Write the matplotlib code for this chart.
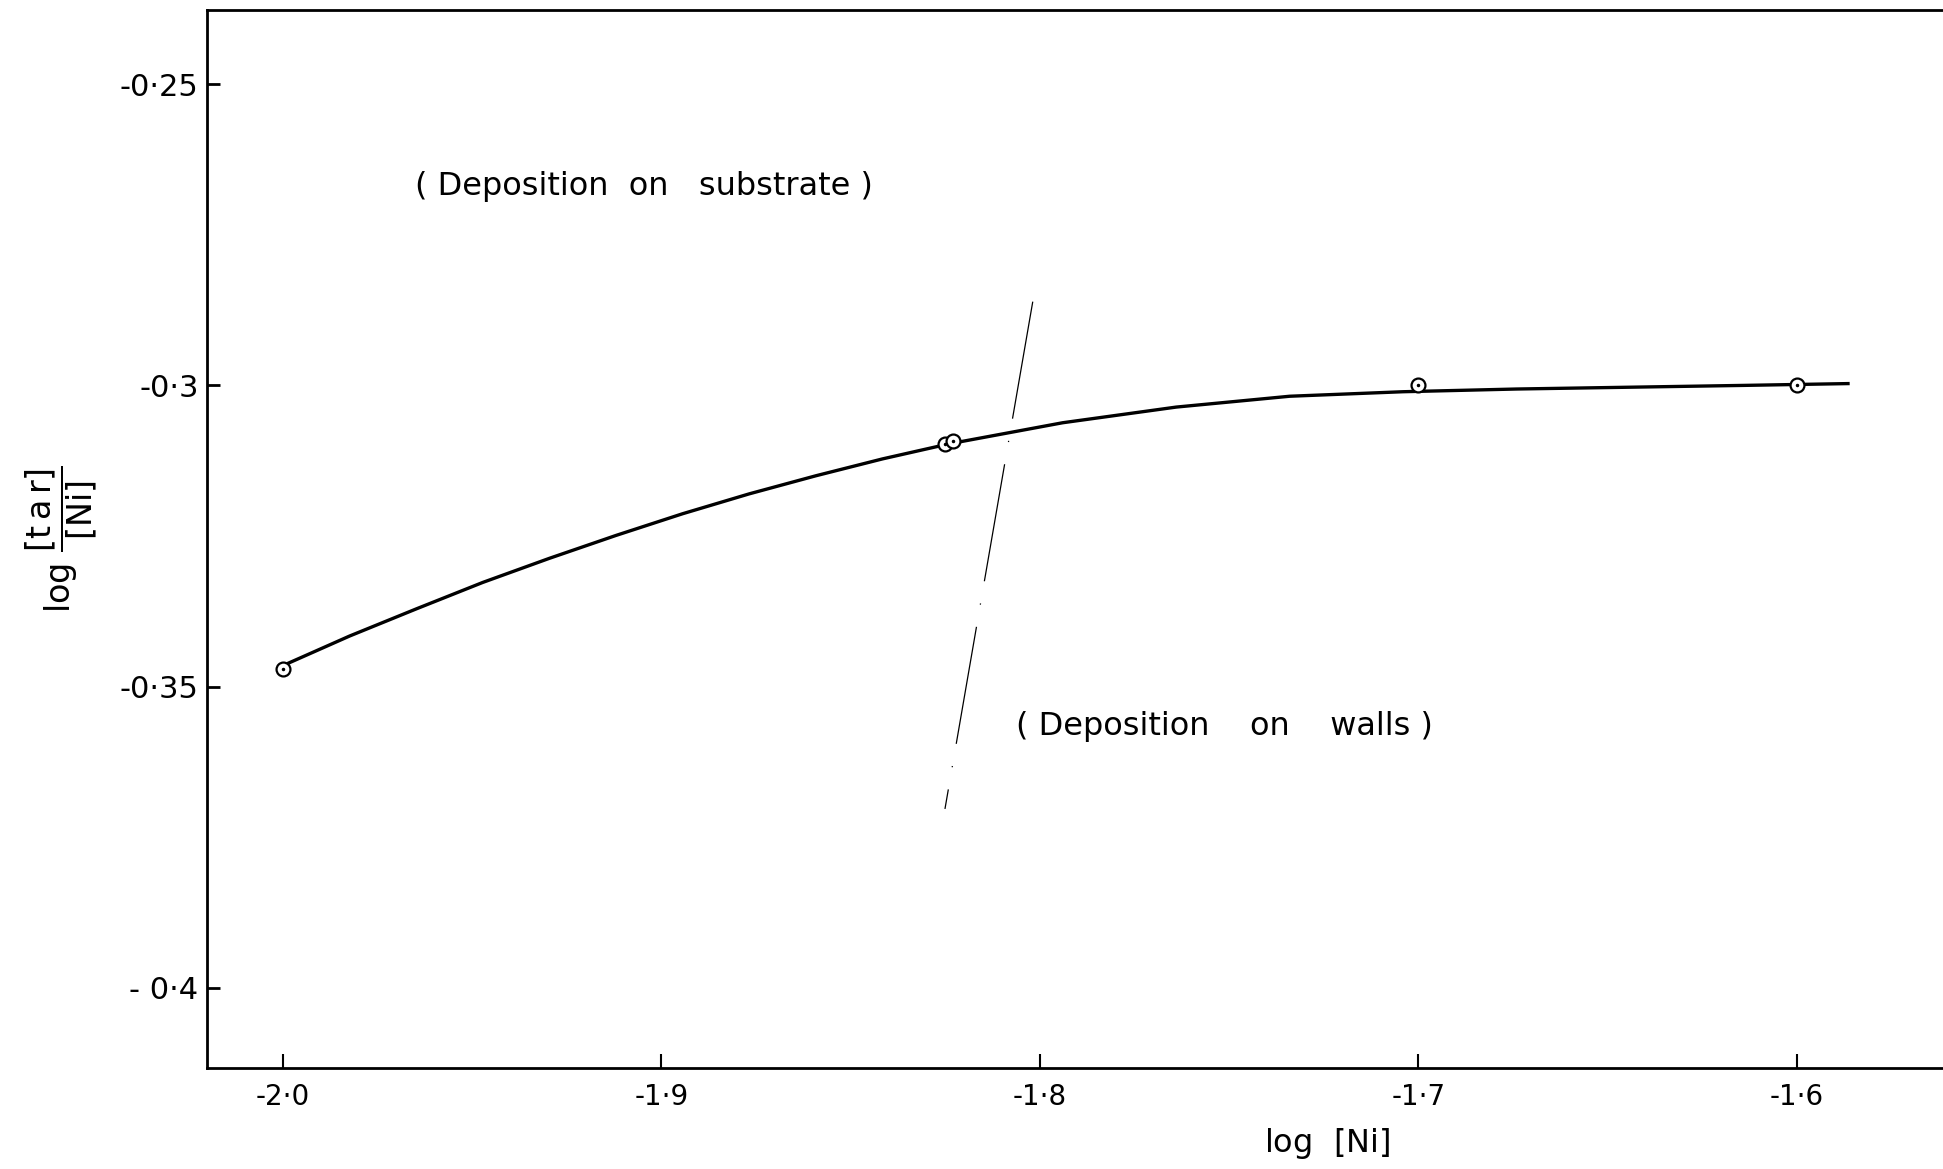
import matplotlib
matplotlib.use("Agg")
import matplotlib.pyplot as plt

# measured points, log[Ni] vs log([tar]/[Ni])
pts_x = [-2.0, -1.825, -1.823, -1.7, -1.6]
pts_y = [-0.347, -0.3098, -0.3093, -0.300, -0.300]

# hand-drawn smooth curve
curve_x = [-2.0, -1.9824, -1.9648, -1.9472, -1.9296, -1.912, -1.8944, -1.8768,
           -1.8592, -1.8416, -1.824, -1.794, -1.764, -1.734, -1.704, -1.674,
           -1.644, -1.614, -1.5865]
curve_y = [-0.3465, -0.3416, -0.3371, -0.3327, -0.3287, -0.3249, -0.3213, -0.3180,
           -0.3150, -0.3122, -0.3097, -0.3062, -0.3036, -0.3018, -0.30105, -0.3006,
           -0.3003, -0.3000, -0.2997]

# boundary between the two deposition regimes
border_x = [-1.8019, -1.8251]
border_y = [-0.2861, -0.3703]

xticks = [-2.0, -1.9, -1.8, -1.7, -1.6]
xlabels = ["-2·0", "-1·9", "-1·8", "-1·7", "-1·6"]
yticks = [-0.25, -0.3, -0.35, -0.4]
ylabels = ["-0·25", "-0·3", "-0·35", "- 0·4"]

plt.rcParams['mathtext.fontset'] = 'dejavusans'

fig = plt.figure(figsize=(19.43, 11.69), dpi=100)
ax = fig.add_axes([0.1065, 0.0864, 0.8935, 0.905])

ax.plot(curve_x, curve_y, color='black', lw=2.4, zorder=2)
ax.plot(pts_x, pts_y, 'o', ms=10, mfc='white', mec='black', mew=1.6, zorder=3)
ax.plot(pts_x, pts_y, '.', ms=3, color='black', zorder=4)
ax.plot(border_x, border_y, color='black', lw=0.9, dashes=(95, 18, 1, 18), zorder=1)

ax.text(-1.965, -0.267, "( Deposition  on   substrate )", fontsize=23,
        ha='left', va='center')
ax.text(-1.8063, -0.3567, "( Deposition    on    walls )", fontsize=23,
        ha='left', va='center')

ax.set_xlim(-2.0201, -1.5614)
ax.set_ylim(-0.4133, -0.2377)
ax.set_xticks(xticks)
ax.set_xticklabels(xlabels, fontsize=20)
ax.set_yticks(yticks)
ax.set_yticklabels(ylabels, fontsize=22)
ax.tick_params(axis='x', direction='in', length=10, width=1.5, pad=11)
ax.tick_params(axis='y', direction='in', length=9, width=2, pad=6)

ax.spines['right'].set_visible(False)
for s in ['left', 'bottom', 'top']:
    ax.spines[s].set_linewidth(2)

ax.set_xlabel(r"log  $\left[\mathrm{Ni}\right]$", fontsize=23)
ax.xaxis.set_label_coords(0.6455, -0.055)
ax.set_ylabel(r"$\mathrm{log}\ \dfrac{[\mathrm{t\,a\,r}]}{[\mathrm{Ni}]}$", fontsize=24)
ax.yaxis.set_label_coords(-0.062, 0.5)

fig.savefig("out.png", dpi=100)
